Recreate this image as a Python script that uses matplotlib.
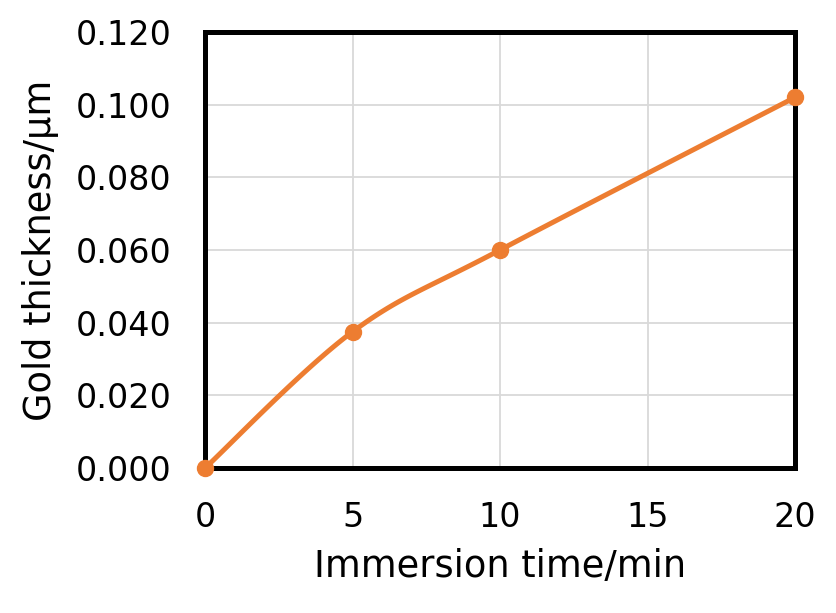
import numpy as np
import matplotlib
matplotlib.use("Agg")
from matplotlib import pyplot as plt

# data
time_min = [0, 5, 10, 20]
thickness_um = [0.000, 0.0375, 0.060, 0.102]
x_ticks = [0, 5, 10, 15, 20]
y_ticks = [0.000, 0.020, 0.040, 0.060, 0.080, 0.100, 0.120]

ORANGE = "#ED7D31"
plt.rcParams['font.family'] = ['DejaVu Sans']


def smooth_path(xs, ys, sx, sy, n=40):
    """Excel-like smoothed line (Catmull-Rom through the points), drawn in screen-ish space"""
    p = np.column_stack([np.asarray(xs, float) * sx, np.asarray(ys, float) * sy])
    p = np.vstack([p[0], p, p[-1]])
    out = []
    t = np.linspace(0, 1, n)[:, None]
    for i in range(1, len(p) - 2):
        p0, p1, p2, p3 = p[i - 1], p[i], p[i + 1], p[i + 2]
        c1 = p1 + (p2 - p0) / 6
        c2 = p2 - (p3 - p1) / 6
        seg = ((1 - t) ** 3) * p1 + 3 * ((1 - t) ** 2) * t * c1 + 3 * (1 - t) * t ** 2 * c2 + t ** 3 * p2
        out.append(seg)
    out = np.vstack(out)
    return out[:, 0] / sx, out[:, 1] / sy


fig = plt.figure(figsize=(8.37, 6.13), dpi=100)
ax = fig.add_axes([0.245, 0.2365, 0.705, 0.7115])

sx_, sy_ = smooth_path(time_min, thickness_um, 590 / 20, 436 / 0.12)
ax.plot(sx_, sy_, color=ORANGE, lw=3.6, solid_capstyle='round', zorder=3, clip_on=False)
ax.plot(time_min, thickness_um, 'o', color=ORANGE, ms=11.5, zorder=4, clip_on=False)

ax.set_xlim(0, 20)
ax.set_ylim(0, 0.12)
ax.set_xticks(x_ticks)
ax.set_yticks(y_ticks)
ax.set_yticklabels([f"{v:.3f}" for v in y_ticks])
ax.grid(True, color="#D9D9D9", lw=1.3)
ax.set_axisbelow(True)
ax.tick_params(length=0, labelsize=24, colors="black")
ax.tick_params(axis='y', pad=24)
ax.tick_params(axis='x', pad=24)
for s in ax.spines.values():
    s.set_linewidth(3.6)
    s.set_color("black")

ax.set_xlabel("Immersion time/min", fontsize=26.5, labelpad=10)
ax.set_ylabel("Gold thickness/μm", fontsize=26.5, labelpad=12)

fig.savefig("out.png", dpi=100)
